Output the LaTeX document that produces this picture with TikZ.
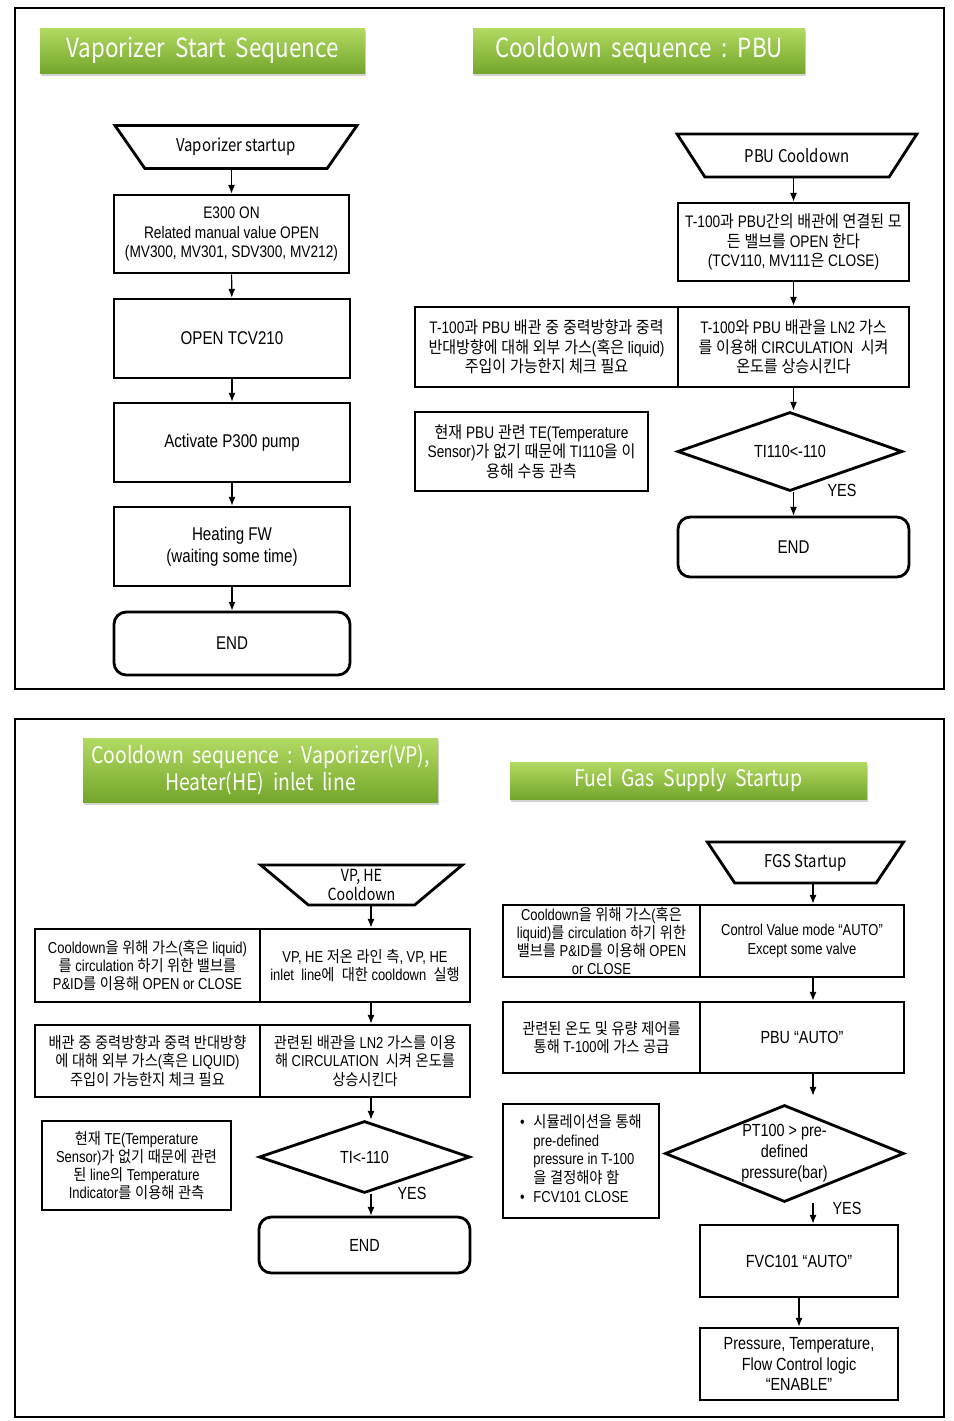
\documentclass[tikz,border=0pt]{standalone}
\usepackage{fontspec}
\setmainfont{Liberation Sans}[FakeStretch=0.82]
\newfontfamily\krfont{Noto Sans CJK KR}[FakeStretch=0.9]
\newfontfamily\ttlfont{Noto Sans CJK KR}[FakeStretch=0.85]
\newcommand\lafont{\rmfamily}
% Hangul syllables go to the CJK face
\XeTeXinterchartokenstate=1
\newXeTeXintercharclass\krclass
\count255="AC00
\loop
  \XeTeXcharclass\count255=\krclass
  \advance\count255 by 1
\ifnum\count255<"D7A4 \repeat
\XeTeXinterchartoks 0 \krclass={\krfont}
\XeTeXinterchartoks 4095 \krclass={\krfont}
\XeTeXinterchartoks \krclass 0={\lafont}
\XeTeXinterchartoks \krclass 4095={\lafont}
\usetikzlibrary{shapes.geometric,shadows,arrows.meta,calc}
\definecolor{ttlTop}{RGB}{178,218,98}
\definecolor{ttlBot}{RGB}{116,166,44}
\tikzset{
  frame/.style={draw, line width=0.8pt},
  sz/.style 2 args={minimum width={#1*0.02cm}, minimum height={#2*0.02cm}},
  ttl/.style={inner sep=0pt, top color=ttlTop, bottom color=ttlBot, text=white, align=center,
    drop shadow={shadow xshift=0.6pt, shadow yshift=-1.8pt, opacity=0.35},
    font=\ttlfont\fontsize{15}{18}\selectfont},
  ttlsm/.style={font=\ttlfont\fontsize{13}{15}\selectfont},
  cell/.style={draw, line width=1.6pt, inner sep=0pt, align=center, font=\fontsize{9.5}{11}\selectfont},
  big/.style={font=\fontsize{10.5}{12.5}\selectfont},
  mid/.style={font=\fontsize{10}{11.5}\selectfont},
  small/.style={font=\fontsize{9}{10.4}\selectfont},
  endbox/.style={cell, rounded corners=7pt, font=\fontsize{10.5}{12.5}\selectfont},
  startbox/.style={draw, line width=1.6pt, trapezium, shape border rotate=180, trapezium stretches=true,
    inner sep=0pt, align=center, font=\ttlfont\fontsize{10}{11}\selectfont},
  dec/.style={draw, line width=1.6pt, diamond, inner sep=0pt, align=center, font=\fontsize{10}{12}\selectfont},
  arr/.style={-{Latex[length=5pt,width=4pt]}, line width=0.6pt},
  yes/.style={font=\fontsize{10}{12}\selectfont}
}
\begin{document}
\begin{tikzpicture}[x=0.02cm, y=-0.02cm]
\useasboundingbox (0,0) rectangle (954,1421);
\draw[frame] (15,8) rectangle (944,689);
\draw[frame] (15,719) rectangle (944,1417);

% Vaporizer start
\node[ttl, sz={325}{45}] (t1) at (202.5,50.5) {Vaporizer\ \ Start\ \ Sequence};
\node[startbox, minimum width=4.88cm, minimum height=0.86cm, trapezium angle=42] (vs) at (236,147) {Vaporizer startup};
\node[cell, sz={235}{78}] (e300) at (231.5,234) {E300 ON\\Related manual value OPEN\\(MV300, MV301, SDV300, MV212)};
\node[cell, big, sz={236}{79}] (tcv) at (232,338.5) {OPEN TCV210};
\node[cell, big, sz={236}{79}] (pump) at (232,442.5) {Activate P300 pump};
\node[cell, big, sz={236}{79}] (heat) at (232,546.5) {Heating FW\\(waiting some time)};
\node[endbox, sz={236}{63}] (end1) at (232,643.5) {END};
\draw[arr] (vs.south -| e300.north) -- (e300.north);
\draw[arr] (e300) -- (tcv);
\draw[arr] (tcv) -- (pump);
\draw[arr] (pump) -- (heat);
\draw[arr] (heat) -- (end1);

% PBU cooldown
\node[ttl, sz={332}{45}] (t2) at (639,50.5) {Cooldown\ \ sequence\ \ :\ \ PBU};
\node[startbox, minimum width=4.8cm, minimum height=0.86cm, trapezium angle=42] (pbu) at (797,155.5) {PBU Cooldown};
\node[cell, sz={231}{78}] (valves) at (793.5,242) {T-100과 PBU간의 배관에 연결된 모\\든 밸브를 OPEN 한다\\(TCV110, MV111은 CLOSE)};
\node[cell, sz={263}{80}] (chk1) at (546.5,347) {T-100과 PBU 배관 중 중력방향과 중력\\반대방향에 대해 외부 가스(혹은 liquid)\\주입이 가능한지 체크 필요};
\node[cell, sz={231}{80}] (circ1) at (793.5,347) {T-100와 PBU 배관을 LN2 가스\\를 이용해 CIRCULATION\ \ 시켜\\온도를 상승시킨다};
\node[cell, sz={233}{79}] (obs1) at (531.5,451.5) {현재 PBU 관련 TE(Temperature\\Sensor)가 없기 때문에 TI110을 이\\용해 수동 관측};
\node[dec, minimum width=4.5cm, minimum height=1.58cm, aspect=2.85] (q1) at (790,451.5) {TI110<-110};
\node[endbox, sz={231}{60}] (end2) at (793.5,547) {END};
\node[yes] (y1) at (842,490) {YES};
\draw[arr] (pbu.south -| valves.north) -- (valves.north);
\draw[arr] (valves) -- (circ1);
\draw[arr] (circ1.south) -- (circ1.south |- q1.north);
\draw[arr] (q1.south -| end2.north) -- (end2.north);

% VP, HE cooldown
\node[ttl, ttlsm, sz={355}{64}] (t3) at (260.5,770) {Cooldown\ \ sequence\ \ :\ \ Vaporizer(VP),\\Heater(HE)\ \ inlet\ \ line};
\node[startbox, minimum width=4.06cm, minimum height=0.8cm, trapezium angle=46, font=\ttlfont\fontsize{9.5}{10.8}\selectfont] (vph) at (361.5,885) {VP, HE\\Cooldown};
\coordinate (axL) at (371,0);
\node[cell, small, sz={225}{73}] (gasL) at (147.5,965.5) {Cooldown을 위해 가스(혹은 liquid)\\를 circulation 하기 위한 밸브를\\P\&ID를 이용해 OPEN or CLOSE};
\node[cell, small, sz={210}{73}] (vpcd) at (365,965.5) {VP, HE 저온 라인 측, VP, HE\\inlet\ \ line에\ \ 대한 cooldown\ \ 실행};
\node[cell, small, sz={225}{72}] (chk2) at (147.5,1061) {배관 중 중력방향과 중력 반대방향\\에 대해 외부 가스(혹은 LIQUID)\\주입이 가능한지 체크 필요};
\node[cell, small, sz={210}{72}] (circ2) at (365,1061) {관련된 배관을 LN2 가스를 이용\\해 CIRCULATION\ \ 시켜 온도를\\상승시킨다};
\node[cell, small, sz={189}{89}] (obs2) at (136.5,1165.5) {현재 TE(Temperature\\Sensor)가 없기 때문에 관련\\된 line의 Temperature\\Indicator를 이용해 관측};
\node[dec, minimum width=4.22cm, minimum height=1.44cm, aspect=2.93] (q2) at (364.5,1157) {TI<-110};
\node[endbox, mid, sz={211}{56}] (end3) at (364.5,1245) {END};
\node[yes] (y2) at (412,1193) {YES};
\draw[arr] (vph.south -| axL) -- (vpcd.north -| axL);
\draw[arr] (vpcd.south -| axL) -- (circ2.north -| axL);
\draw[arr] (circ2.south -| axL) -- (q2.north -| axL);
\draw[arr] (q2.south -| axL) -- (end3.north -| axL);

% Fuel gas supply
\node[ttl, ttlsm, sz={357}{37}] (t4) at (688.5,780.5) {Fuel\ \ Gas\ \ Supply\ \ Startup};
\node[startbox, minimum width=3.94cm, minimum height=0.82cm, trapezium angle=47] (fgs) at (805.5,862.5) {FGS Startup};
\coordinate (axR) at (813,0);
\node[cell, small, sz={197}{72}] (gasR) at (601.5,941) {Cooldown을 위해 가스(혹은\\liquid)를 circulation 하기 위한\\밸브를 P\&ID를 이용해 OPEN\\or CLOSE};
\node[cell, small, sz={204}{72}] (auto1) at (802,941) {Control Value mode “AUTO”\\Except some valve};
\node[cell, small, sz={197}{71}] (supply) at (601.5,1037.5) {관련된 온도 및 유량 제어를\\통해 T-100에 가스 공급};
\node[cell, mid, sz={204}{71}] (pbuauto) at (802,1037.5) {PBU “AUTO”};
\node[cell, sz={156}{114}, font=\fontsize{9}{10.6}\selectfont] (sim) at (581,1161) {\begin{tabular}{@{}l@{\hspace{5pt}}l@{}}
  • & 시뮬레이션을 통해\\
    & pre-defined\\
    & pressure in T-100\\
    & 을 결정해야 함\\
  • & FCV101 CLOSE
\end{tabular}};
\node[dec, minimum width=4.78cm, minimum height=1.94cm, aspect=2.46] (q3) at (784.5,1153.5) {PT100 > pre-\\defined\\pressure(bar)};
\node[cell, mid, sz={198}{72}] (fvc) at (799,1261) {FVC101 “AUTO”};
\node[cell, mid, sz={198}{72}] (logic) at (799,1364) {Pressure, Temperature,\\Flow Control logic\\“ENABLE”};
\node[yes] (y3) at (847,1208) {YES};
\draw[arr] (fgs.south -| axR) -- (auto1.north -| axR);
\draw[arr] (auto1.south -| axR) -- (pbuauto.north -| axR);
\draw[arr] (pbuauto.south -| axR) -- ($(q3.north -| axR)+(0,-8)$);
\draw[arr] (q3.south -| axR) -- (fvc.north -| axR);
\draw[arr] (fvc) -- (logic);
\end{tikzpicture}
\end{document}
